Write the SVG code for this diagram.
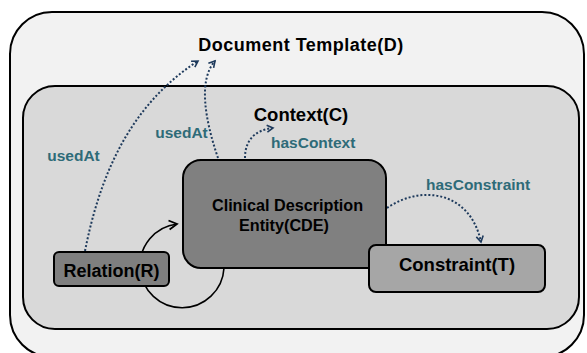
<svg xmlns="http://www.w3.org/2000/svg" width="587" height="353" viewBox="0 0 587 353">
<defs>
<style>
.lbl{font-family:"Liberation Sans",Arial,sans-serif;font-weight:bold;fill:#000}
.edge{font-family:"Liberation Sans",Arial,sans-serif;font-weight:bold;fill:#2e6b78;font-size:15.5px}
.dot{fill:none;stroke:#1e3a5c;stroke-width:2;stroke-dasharray:2 2}
.box{stroke:#000;stroke-width:2}
</style>
<marker id="ad" markerWidth="10" markerHeight="10" refX="7" refY="5" orient="auto" markerUnits="userSpaceOnUse">
<path d="M1,1.5 L7,5 L1,8.5" fill="none" stroke="#1e3a5c" stroke-width="1.6"/>
</marker>
<marker id="ab" markerWidth="12" markerHeight="12" refX="9" refY="6" orient="auto" markerUnits="userSpaceOnUse">
<path d="M1,1.5 L9,6 L1,10.5" fill="none" stroke="#000" stroke-width="1.8"/>
</marker>
</defs>
<rect width="587" height="353" fill="#ffffff"/>
<g id="documentTemplate">
<rect x="10" y="12" width="574" height="345" rx="42" fill="#f2f2f2" class="box"/>
<text class="lbl" x="301" y="51" font-size="18" text-anchor="middle" letter-spacing="0.5">Document Template(D)</text>
</g>
<g id="context">
<rect x="23" y="86" width="556" height="243" rx="32" fill="#d9d9d9" class="box"/>
<text class="lbl" x="301" y="121" font-size="18.5" text-anchor="middle">Context(C)</text>
</g>
<g id="connectors">
<path d="M224,268 A42,42 0 1 1 177,224" fill="none" stroke="#000" stroke-width="1.6" marker-end="url(#ab)"/>
<path class="dot" d="M85,251 C100,175 130,105 198,61" marker-end="url(#ad)"/>
<path class="dot" d="M218,158 C205,120 198,80 215,61" marker-end="url(#ad)"/>
<path class="dot" d="M245,158 C245,140 255,130 273,128" marker-end="url(#ad)"/>
<path class="dot" d="M387,208 C420,185 470,190 481,242" marker-end="url(#ad)"/>
<text class="edge" x="73.5" y="161" text-anchor="middle">usedAt</text>
<text class="edge" x="181.5" y="138" text-anchor="middle">usedAt</text>
<text class="edge" x="271" y="148">hasContext</text>
<text class="edge" x="426" y="190">hasConstraint</text>
</g>
<g id="cde">
<rect x="183" y="160" width="203" height="108" rx="18" fill="#808080" class="box"/>
<text class="lbl" x="287.5" y="211" font-size="16.2" text-anchor="middle">Clinical Description</text>
<text class="lbl" x="284" y="231" font-size="16.2" text-anchor="middle">Entity(CDE)</text>
</g>
<g id="relation">
<rect x="54" y="252" width="115" height="34" rx="5" fill="#7f7f7f" class="box"/>
<text class="lbl" x="111.5" y="277" font-size="18" text-anchor="middle">Relation(R)</text>
</g>
<g id="constraint">
<rect x="369" y="245" width="176" height="47" rx="7" fill="#a6a6a6" class="box"/>
<text class="lbl" x="457" y="271" font-size="18.5" text-anchor="middle">Constraint(T)</text>
</g>
</svg>
